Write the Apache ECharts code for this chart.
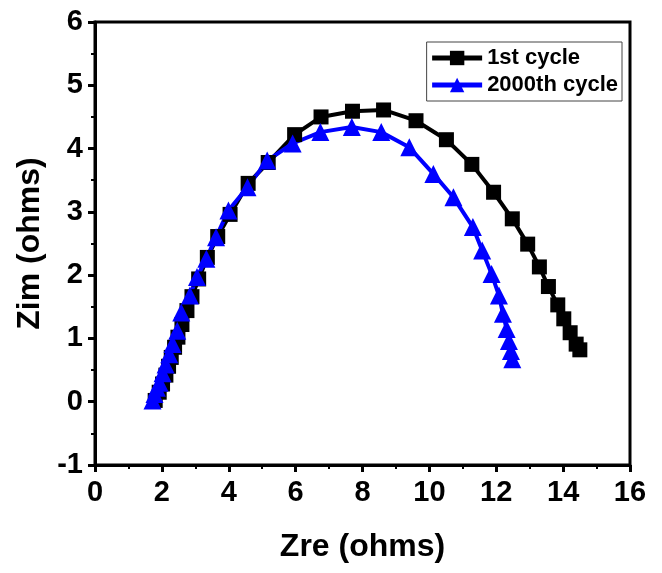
<!DOCTYPE html>
<html>
<head>
<meta charset="utf-8">
<script src="https://cdn.jsdelivr.net/npm/echarts@6/dist/echarts.min.js"></script>
<style>html,body{margin:0;padding:0;background:#fff;}#c{width:662px;height:573px;}</style>
</head>
<body>
<div id="c"></div>
<script>
var seriesNames = ['1st cycle', '2000th cycle'];
var zre1 = [1.80, 1.92, 2.02, 2.12, 2.20, 2.28, 2.38, 2.48, 2.60, 2.75, 2.90, 3.10, 3.36, 3.67, 4.04, 4.58, 5.18, 5.97, 6.76, 7.70, 8.63, 9.60, 10.51, 11.27, 11.92, 12.48, 12.94, 13.29, 13.56, 13.84, 14.02, 14.21, 14.39, 14.50];
var zim1 = [0.02, 0.15, 0.28, 0.42, 0.56, 0.70, 0.86, 1.02, 1.22, 1.44, 1.66, 1.94, 2.28, 2.61, 2.96, 3.45, 3.78, 4.22, 4.50, 4.59, 4.61, 4.44, 4.14, 3.75, 3.31, 2.89, 2.49, 2.13, 1.82, 1.53, 1.31, 1.09, 0.91, 0.82];
var zre2 = [1.72, 1.78, 1.85, 1.93, 2.02, 2.11, 2.22, 2.32, 2.46, 2.58, 2.84, 3.05, 3.33, 3.62, 3.99, 4.56, 5.15, 5.91, 6.74, 7.68, 8.56, 9.40, 10.12, 10.72, 11.30, 11.58, 11.86, 12.08, 12.20, 12.31, 12.38, 12.44, 12.48];
var zim2 = [0.02, 0.12, 0.22, 0.30, 0.45, 0.59, 0.75, 0.91, 1.12, 1.41, 1.68, 1.97, 2.26, 2.60, 3.02, 3.39, 3.81, 4.08, 4.26, 4.34, 4.26, 4.02, 3.60, 3.23, 2.76, 2.39, 2.02, 1.68, 1.39, 1.15, 0.96, 0.80, 0.67];

function pairs(xs, ys) { return xs.map(function (x, i) { return [x, ys[i]]; }); }

var font = 'Liberation Sans, Arial, sans-serif';
var chart = echarts.init(document.getElementById('c'), null, {renderer: 'canvas'});
chart.setOption({
  animation: false,
  backgroundColor: '#fff',
  grid: {left: 95, right: 32, top: 22, bottom: 108, show: true, borderColor: '#000', borderWidth: 3, backgroundColor: 'transparent'},
  legend: {
    right: 40, top: 42, orient: 'vertical', itemGap: 5, itemWidth: 50, itemHeight: 18, itemTextGap: 7,
    borderColor: '#444', borderWidth: 1, padding: [5, 4, 5, 3], borderRadius: 0,
    lineStyle: {width: 5},
    textStyle: {fontFamily: font, fontWeight: 'bold', fontSize: 22, color: '#000'},
    data: seriesNames
  },
  xAxis: {
    type: 'value', min: 0, max: 16, interval: 2,
    name: 'Zre (ohms)', nameLocation: 'middle', nameGap: 66,
    nameTextStyle: {fontFamily: font, fontWeight: 'bold', fontSize: 32, color: '#000'},
    axisLine: {show: true, onZero: false, lineStyle: {color: '#000', width: 3}},
    axisTick: {show: true, length: 7, lineStyle: {color: '#000', width: 3}},
    minorTick: {show: true, splitNumber: 2, length: 4, lineStyle: {color: '#000', width: 2}},
    splitLine: {show: false},
    axisLabel: {fontFamily: font, fontWeight: 'bold', fontSize: 29, color: '#000', margin: 13}
  },
  yAxis: {
    type: 'value', min: -1, max: 6, interval: 1,
    name: 'Zim (ohms)', nameLocation: 'middle', nameGap: 47,
    nameTextStyle: {fontFamily: font, fontWeight: 'bold', fontSize: 32, color: '#000'},
    axisLine: {show: true, onZero: false, lineStyle: {color: '#000', width: 3}},
    axisTick: {show: true, length: 7, lineStyle: {color: '#000', width: 3}},
    minorTick: {show: true, splitNumber: 2, length: 4, lineStyle: {color: '#000', width: 2}},
    splitLine: {show: false},
    axisLabel: {fontFamily: font, fontWeight: 'bold', fontSize: 29, color: '#000', margin: 12}
  },
  series: [
    {
      name: seriesNames[0], type: 'line', data: pairs(zre1, zim1),
      symbol: 'rect', symbolSize: 15, showAllSymbol: true,
      lineStyle: {color: '#000', width: 4}, itemStyle: {color: '#000'}
    },
    {
      name: seriesNames[1], type: 'line', data: pairs(zre2, zim2),
      symbol: 'triangle', symbolSize: 18, showAllSymbol: true,
      lineStyle: {color: '#0000ff', width: 4}, itemStyle: {color: '#0000ff'}
    }
  ]
});
</script>
</body>
</html>
